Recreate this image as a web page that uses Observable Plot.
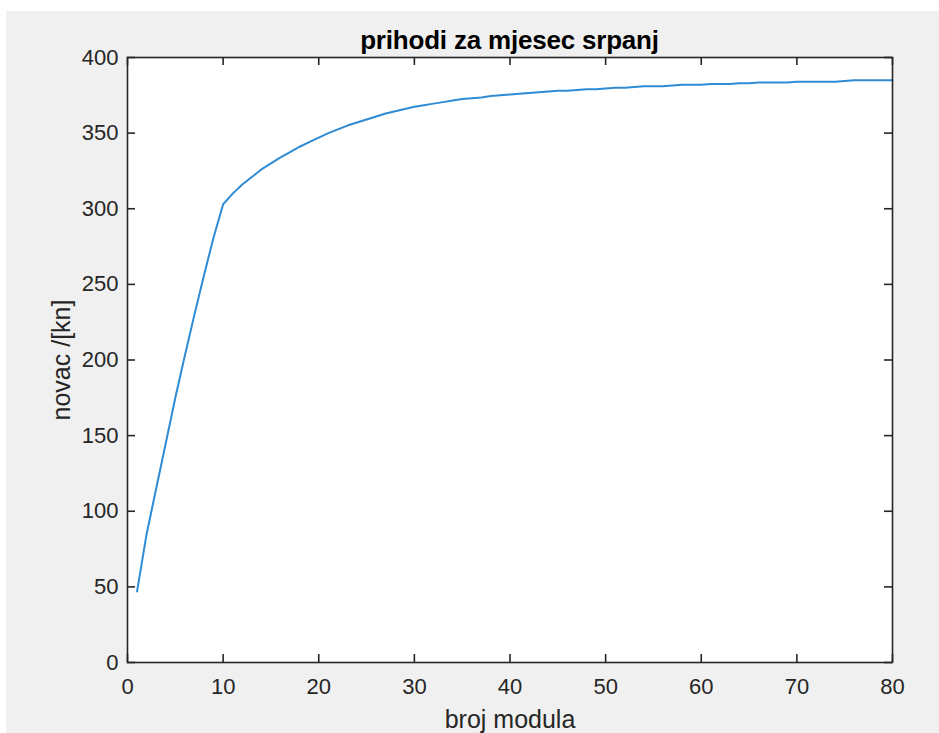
<!DOCTYPE html>
<html><head><meta charset="utf-8">
<script src="https://cdn.jsdelivr.net/npm/d3@7"></script>
<script src="https://cdn.jsdelivr.net/npm/@observablehq/plot@0.6"></script>
<style>
html,body{margin:0;padding:0;background:#fff;width:939px;height:733px;overflow:hidden;}
#bg{position:absolute;left:6px;top:11px;width:933px;height:722px;background:#f0f0f0;}
#title{position:absolute;left:127px;width:765px;top:25px;text-align:center;font:bold 26px "Liberation Sans",Arial,sans-serif;color:#000;line-height:30px;letter-spacing:-0.2px;}
#chart{position:absolute;left:0;top:0;}
</style></head><body>
<div id="bg"></div>
<div id="title">prihodi za mjesec srpanj</div>
<div id="chart"></div>
<script>
const moduli = [1,2,3,4,5,6,7,8,9,10,11,12,13,14,15,16,17,18,19,20,21,22,23,24,25,26,27,28,29,30,31,32,33,34,35,36,37,38,39,40,41,42,43,44,45,46,47,48,49,50,51,52,53,54,55,56,57,58,59,60,61,62,63,64,65,66,67,68,69,70,71,72,73,74,75,76,77,78,79,80];
const novac = [47,85,115,145,175,203,230,256,281,303,
  310,316,321,326,330,334,337.5,341,344,347,
  350,352.5,355,357,359,361,363,364.5,366,367.5,
  368.5,369.5,370.5,371.5,372.5,373,373.5,374.5,375,375.5,
  376,376.5,377,377.5,378,378,378.5,379,379,379.5,
  380,380,380.5,381,381,381,381.5,382,382,382,
  382.5,382.5,382.5,383,383,383.5,383.5,383.5,383.5,384,
  384,384,384,384,384.5,385,385,385,385,385];
const xTicks = [0,10,20,30,40,50,60,70,80];
const yTicks = [0,50,100,150,200,250,300,350,400];
const xLabel = "broj modula";
const yLabel = "novac /[kn]";

const W = 939, H = 733, mL = 127, mR = 47, mT = 57, mB = 71;
const iw = W - mL - mR, ih = H - mT - mB;
const axisColor = "#262626";
const data = moduli.map((m, i) => ({m, v: novac[i]}));

const chart = Plot.plot({
  width: W, height: H,
  marginLeft: mL, marginRight: mR, marginTop: mT, marginBottom: mB,
  style: {background: "transparent", fontFamily: "'Liberation Sans', Arial, sans-serif", color: axisColor, overflow: "visible"},
  x: {domain: [0, 80]},
  y: {domain: [0, 400]},
  marks: [
    Plot.frame({fill: "white", stroke: "none"}),
    Plot.line(data, {x: "m", y: "v", stroke: "#2f8bd3", strokeWidth: 2, curve: "linear"}),
    Plot.tickX(xTicks, {x: d => d, insetTop: ih - 8, stroke: axisColor, strokeWidth: 1.6}),
    Plot.tickX(xTicks, {x: d => d, insetBottom: ih - 8, stroke: axisColor, strokeWidth: 1.6}),
    Plot.tickY(yTicks, {y: d => d, insetRight: iw - 8, stroke: axisColor, strokeWidth: 1.6}),
    Plot.tickY(yTicks, {y: d => d, insetLeft: iw - 8, stroke: axisColor, strokeWidth: 1.6}),
    Plot.frame({stroke: axisColor, strokeWidth: 1.6}),
    Plot.axisX({ticks: xTicks, tickSize: 0, tickPadding: 16, fontSize: 22, label: null}),
    Plot.axisY({ticks: yTicks, tickSize: 0, tickPadding: 9, fontSize: 22, label: null}),
    Plot.axisX({ticks: [], tickSize: 0, fontSize: 25, label: xLabel, labelAnchor: "center", labelArrow: "none", labelOffset: 65}),
    Plot.axisY({ticks: [], tickSize: 0, fontSize: 25, label: yLabel, labelAnchor: "center", labelArrow: "none", labelOffset: 75})
  ]
});
document.getElementById("chart").appendChild(chart);
</script>
</body></html>
